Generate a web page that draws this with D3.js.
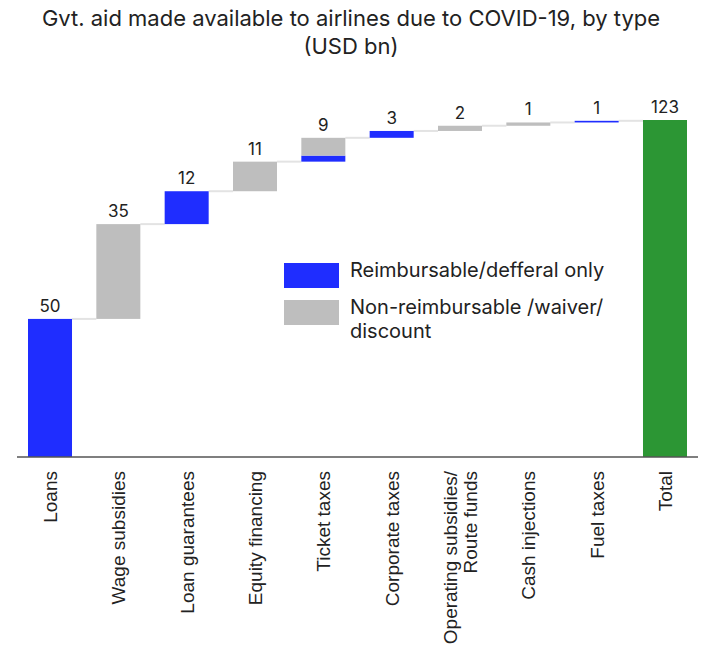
<!DOCTYPE html>
<html lang="en">
<head>
  <meta charset="UTF-8">
  <title>Gvt. aid to airlines</title>
  <style>
    body { margin: 0; background: #fff; font-family: Inter, "Noto Sans", Arial, sans-serif; }
    svg text { fill: #222; }
    .cat { font-family: "Liberation Sans", Arial, sans-serif; font-size: 19px; }
  </style>
</head>
<body>
  <div id="chart"></div>
  <script src="https://d3js.org/d3.v7.min.js"></script>
  <script>
    // data (USD bn)
    const categories = ['Loans', 'Wage subsidies', 'Loan guarantees', 'Equity financing', 'Ticket taxes',
      'Corporate taxes', 'Operating subsidies/|Route funds', 'Cash injections', 'Fuel taxes', 'Total'];
    const reimbursable = [50.4, 0, 12.0, 0, 2.2, 2.5, 0, 0, 0.6, 0];
    const nonReimbursable = [0, 34.6, 0, 10.8, 6.5, 0, 1.9, 1.2, 0, 0];
    const totalValue = 123;
    const valueLabels = ['50', '35', '12', '11', '9', '3', '2', '1', '1', '123'];

    const W = 702, H = 660;
    const colors = { reimb: '#1f2dff', non: '#bebebe', total: '#2c9634', connector: '#e3e3e3' };

    const svg = d3.select('#chart').append('svg')
      .attr('width', W).attr('height', H);

    // title
    const title = svg.append('text')
      .attr('text-anchor', 'middle')
      .style('font-size', '22px');
    title.append('tspan').attr('x', W / 2).attr('y', 26).text('Gvt. aid made available to airlines due to COVID-19, by type');
    title.append('tspan').attr('x', W / 2).attr('y', 54).text('(USD bn)');

    const x = d3.scaleBand()
      .domain(categories)
      .range([28, 687])
      .paddingInner(0.356)
      .paddingOuter(0);

    const y = d3.scaleLinear()
      .domain([0, totalValue])
      .range([457, 120]);

    // build waterfall segments
    let cum = 0;
    const steps = categories.map((c, i) => {
      const start = cum;
      if (c === 'Total') {
        return { cat: c, start: 0, end: totalValue, label: valueLabels[i],
          segs: [{ y0: 0, y1: totalValue, color: colors.total }] };
      }
      const segs = [];
      if (reimbursable[i] > 0) {
        segs.push({ y0: cum, y1: cum + reimbursable[i], color: colors.reimb });
        cum += reimbursable[i];
      }
      if (nonReimbursable[i] > 0) {
        segs.push({ y0: cum, y1: cum + nonReimbursable[i], color: colors.non });
        cum += nonReimbursable[i];
      }
      return { cat: c, start: start, end: cum, label: valueLabels[i], segs: segs };
    });

    // connectors
    svg.append('g').selectAll('line')
      .data(steps.slice(0, -1))
      .enter().append('line')
      .attr('x1', d => x(d.cat) + x.bandwidth())
      .attr('x2', (d, i) => x(steps[i + 1].cat))
      .attr('y1', d => y(d.end))
      .attr('y2', d => y(d.end))
      .attr('stroke', colors.connector)
      .attr('stroke-width', 2);

    // bars
    const groups = svg.append('g').selectAll('g')
      .data(steps)
      .enter().append('g');

    groups.selectAll('rect')
      .data(d => d.segs.map(s => Object.assign({ cat: d.cat }, s)))
      .enter().append('rect')
      .attr('x', d => x(d.cat))
      .attr('width', x.bandwidth())
      .attr('y', d => y(d.y1))
      .attr('height', d => Math.max(1.5, y(d.y0) - y(d.y1)))
      .attr('fill', d => d.color);

    // value labels
    groups.append('text')
      .attr('x', d => x(d.cat) + x.bandwidth() / 2)
      .attr('y', d => y(d.end) - 7)
      .attr('text-anchor', 'middle')
      .style('font-size', '17px')
      .text(d => d.label);

    // axis baseline
    svg.append('line')
      .attr('x1', 17).attr('x2', 698)
      .attr('y1', y(0)).attr('y2', y(0))
      .attr('stroke', '#555')
      .attr('stroke-width', 1.5);

    // category labels (rotated)
    const catLabels = svg.append('g').selectAll('text')
      .data(categories)
      .enter().append('text')
      .attr('class', 'cat')
      .attr('transform', d => `translate(${x(d) + x.bandwidth() / 2}, 471) rotate(-90)`)
      .attr('text-anchor', 'end');

    catLabels.each(function(d) {
      const lines = d.split('|');
      const t = d3.select(this);
      lines.forEach((ln, i) => {
        t.append('tspan')
          .attr('x', 0)
          .attr('dy', i === 0 ? (7 - (lines.length - 1) * 10) : 20)
          .text(ln);
      });
    });

    // legend
    const legend = svg.append('g');
    legend.append('rect').attr('x', 284).attr('y', 263).attr('width', 55).attr('height', 25).attr('fill', colors.reimb);
    legend.append('rect').attr('x', 284).attr('y', 300).attr('width', 55).attr('height', 25).attr('fill', colors.non);
    legend.append('text').attr('x', 350).attr('y', 277).style('font-size', '20px').text('Reimbursable/defferal only');
    const lt = legend.append('text').style('font-size', '20px');
    lt.append('tspan').attr('x', 350).attr('y', 314).text('Non-reimbursable /waiver/');
    lt.append('tspan').attr('x', 350).attr('y', 338).text('discount');
  </script>
</body>
</html>
